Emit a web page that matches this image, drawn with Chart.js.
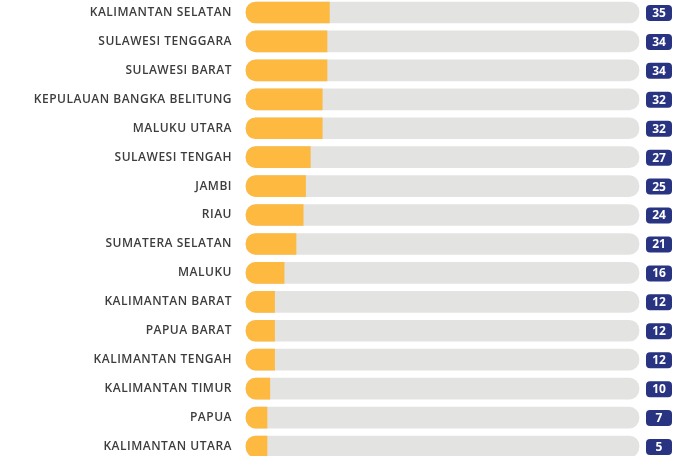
<!DOCTYPE html>
<html>
<head>
<meta charset="utf-8">
<script src="https://cdn.jsdelivr.net/npm/chart.js@4.4.0/dist/chart.umd.min.js"></script>
<style>
  html, body { margin: 0; padding: 0; background: #fff; }
  #wrap { width: 678px; height: 456px; position: relative; }
</style>
</head>
<body>
<div id="wrap"><canvas id="chart"></canvas></div>
<script>
const provinces = [
  "KALIMANTAN SELATAN", "SULAWESI TENGGARA", "SULAWESI BARAT",
  "KEPULAUAN BANGKA BELITUNG", "MALUKU UTARA", "SULAWESI TENGAH",
  "JAMBI", "RIAU", "SUMATERA SELATAN", "MALUKU", "KALIMANTAN BARAT",
  "PAPUA BARAT", "KALIMANTAN TENGAH", "KALIMANTAN TIMUR", "PAPUA",
  "KALIMANTAN UTARA"
];
const counts = [35, 34, 34, 32, 32, 27, 25, 24, 21, 16, 12, 12, 12, 10, 7, 5];
const trackMax = 165;
const track = provinces.map(() => trackMax);

const ORANGE = "#fdb940";
const GREY = "#e3e3e2";
const NAVY = "#283382";

// value badges at the right end of every row
const badges = {
  id: "badges",
  afterDatasetsDraw(chart) {
    const ctx = chart.ctx;
    const meta = chart.getDatasetMeta(1);
    const x0 = chart.chartArea.right + 7;
    ctx.save();
    ctx.letterSpacing = "0px";
    ctx.font = "700 12px 'Open Sans'";
    ctx.textAlign = "center";
    ctx.textBaseline = "middle";
    meta.data.forEach((bar, i) => {
      const w = 26, h = 16;
      ctx.fillStyle = NAVY;
      ctx.beginPath();
      ctx.roundRect(x0, bar.y - h / 2 + 0.5, w, h, 4);
      ctx.fill();
      ctx.fillStyle = "#fff";
      ctx.fillText(String(counts[i]), x0 + w / 2, bar.y + 1);
    });
    ctx.restore();
  }
};

const spacing = {
  id: "spacing",
  beforeDraw(chart) { chart.ctx.letterSpacing = "0.5px"; }
};

new Chart(document.getElementById("chart"), {
  type: "bar",
  data: {
    labels: provinces,
    datasets: [
      {
        data: track,
        backgroundColor: GREY,
        borderRadius: 10,
        borderSkipped: false,
        barThickness: 21,
        grouped: false,
        clip: false,
        order: 2
      },
      {
        data: counts,
        backgroundColor: ORANGE,
        borderRadius: { topLeft: 10, bottomLeft: 10, topRight: 0, bottomRight: 0 },
        borderSkipped: false,
        barThickness: 21,
        minBarLength: 21,
        grouped: false,
        clip: false,
        order: 1
      }
    ]
  },
  options: {
    indexAxis: "y",
    responsive: true,
    maintainAspectRatio: false,
    animation: false,
    layout: { padding: { top: 12.5, bottom: 9.5, right: 39, left: 0 } },
    plugins: { legend: { display: false }, tooltip: { enabled: false } },
    scales: {
      x: { display: false, min: 0, max: trackMax },
      y: {
        offset: false,
        grid: { display: false },
        border: { display: false },
        afterFit: s => {
          s.width = 246;
          s.paddingTop = 0;
          s.paddingBottom = 0;
        },
        ticks: {
          padding: 6,
          color: "#3d3d3d",
          font: { family: "'Open Sans'", size: 12, weight: "600" }
        }
      }
    }
  },
  plugins: [spacing, badges]
});
</script>
</body>
</html>
